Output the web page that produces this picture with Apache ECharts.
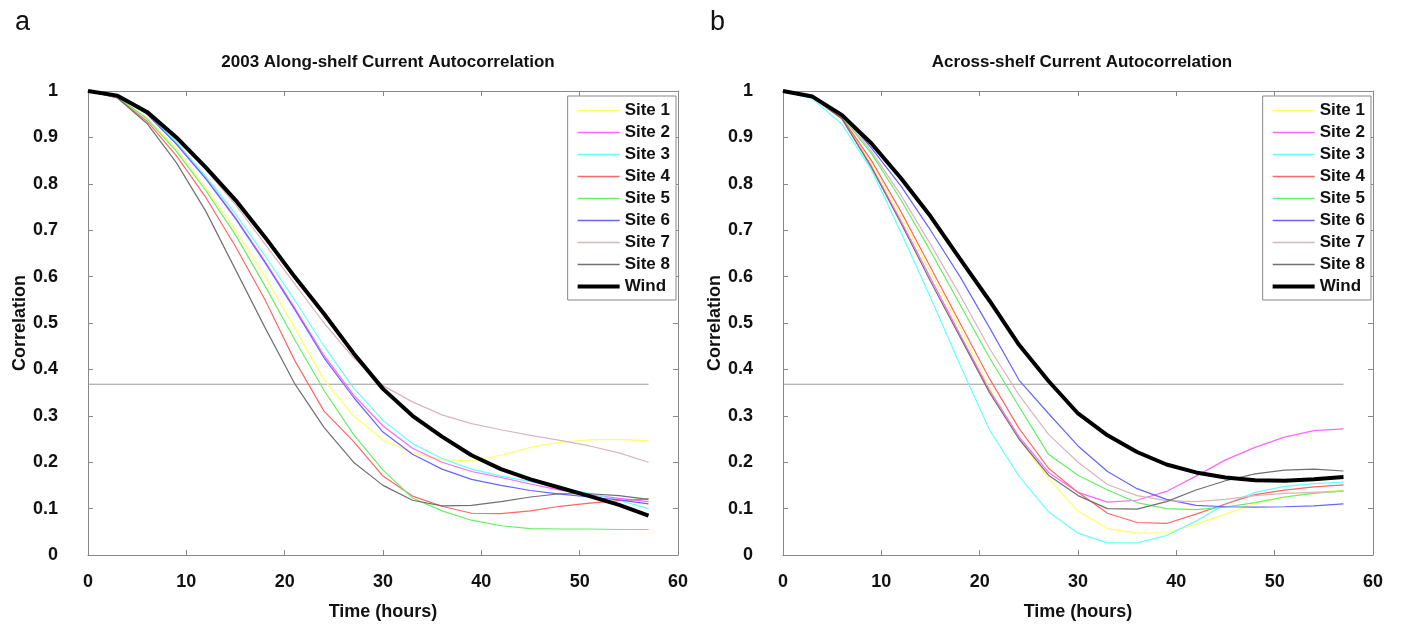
<!DOCTYPE html>
<html>
<head>
<meta charset="utf-8">
<script src="https://cdn.jsdelivr.net/npm/echarts@6/dist/echarts.min.js"></script>
<style>html,body{margin:0;padding:0;background:#fff}#c{width:1403px;height:627px}</style>
</head>
<body>
<div id="c"></div>
<script>
const hours = [0,3,6,9,12,15,18,21,24,27,30,33,36,39,42,45,48,51,54,57];
const seriesNames = ['Site 1','Site 2','Site 3','Site 4','Site 5','Site 6','Site 7','Site 8','Wind'];
const xTicks = [0,10,20,30,40,50,60];
const yTicks = [0,0.1,0.2,0.3,0.4,0.5,0.6,0.7,0.8,0.9,1];
const eFold = 0.368;
const eFoldEnd = 57;

// (a) 2003 Along-shelf
const alongSite1 = [1,0.987,0.942,0.875,0.79,0.7,0.6,0.49,0.378,0.3,0.248,0.22,0.205,0.203,0.215,0.232,0.243,0.248,0.249,0.246];
const alongSite2 = [1,0.99,0.951,0.887,0.812,0.727,0.633,0.533,0.43,0.345,0.278,0.23,0.2,0.18,0.167,0.153,0.14,0.13,0.122,0.115];
const alongSite3 = [1,0.99,0.952,0.89,0.815,0.735,0.645,0.55,0.45,0.36,0.29,0.24,0.208,0.185,0.17,0.158,0.145,0.133,0.118,0.1];
const alongSite4 = [1,0.985,0.935,0.86,0.77,0.665,0.55,0.42,0.31,0.245,0.17,0.127,0.105,0.09,0.089,0.095,0.105,0.112,0.117,0.121];
const alongSite5 = [1,0.987,0.94,0.87,0.785,0.69,0.58,0.465,0.355,0.26,0.183,0.123,0.095,0.075,0.063,0.057,0.056,0.056,0.055,0.055];
const alongSite6 = [1,0.99,0.95,0.885,0.81,0.725,0.63,0.53,0.425,0.34,0.265,0.217,0.185,0.163,0.15,0.139,0.131,0.125,0.119,0.11];
const alongSite7 = [1,0.99,0.955,0.895,0.83,0.755,0.67,0.585,0.5,0.425,0.365,0.33,0.302,0.283,0.27,0.258,0.247,0.235,0.22,0.2];
const alongSite8 = [1,0.985,0.93,0.845,0.74,0.615,0.49,0.37,0.275,0.2,0.15,0.118,0.106,0.107,0.115,0.125,0.132,0.132,0.128,0.12];
const alongWind  = [1,0.99,0.955,0.9,0.835,0.765,0.685,0.6,0.52,0.435,0.358,0.3,0.255,0.215,0.185,0.163,0.145,0.127,0.108,0.085];

// (b) Across-shelf
const acrossSite1 = [1,0.986,0.94,0.845,0.73,0.61,0.49,0.36,0.25,0.165,0.095,0.057,0.047,0.048,0.066,0.088,0.11,0.125,0.135,0.14];
const acrossSite2 = [1,0.986,0.94,0.838,0.72,0.597,0.475,0.355,0.255,0.178,0.135,0.114,0.118,0.137,0.17,0.205,0.232,0.254,0.268,0.272];
const acrossSite3 = [1,0.983,0.928,0.83,0.695,0.555,0.41,0.27,0.17,0.093,0.047,0.026,0.026,0.042,0.073,0.11,0.135,0.148,0.154,0.157];
const acrossSite4 = [1,0.987,0.942,0.85,0.74,0.62,0.5,0.38,0.273,0.187,0.135,0.09,0.07,0.068,0.088,0.11,0.13,0.14,0.147,0.151];
const acrossSite5 = [1,0.988,0.945,0.865,0.765,0.655,0.54,0.425,0.32,0.217,0.172,0.14,0.113,0.1,0.098,0.103,0.113,0.125,0.133,0.138];
const acrossSite6 = [1,0.989,0.95,0.877,0.795,0.7,0.6,0.49,0.377,0.305,0.235,0.18,0.143,0.12,0.107,0.104,0.103,0.104,0.106,0.11];
const acrossSite7 = [1,0.988,0.948,0.87,0.775,0.67,0.56,0.445,0.345,0.26,0.2,0.152,0.128,0.117,0.115,0.12,0.128,0.133,0.135,0.137];
const acrossSite8 = [1,0.986,0.94,0.835,0.715,0.59,0.47,0.35,0.25,0.172,0.128,0.1,0.099,0.115,0.14,0.16,0.175,0.183,0.185,0.181];
const acrossWind  = [1,0.988,0.948,0.887,0.812,0.73,0.638,0.548,0.453,0.375,0.305,0.258,0.222,0.195,0.178,0.167,0.161,0.16,0.163,0.168];

const colors = ['#ffff66','#ff66ff','#66ffff','#ff6666','#66ee66','#6666ff','#dcb4bc','#707070','#000000'];
const widths = [1.2,1.2,1.2,1.2,1.2,1.2,1.2,1.2,4];

const alongData = [alongSite1,alongSite2,alongSite3,alongSite4,alongSite5,alongSite6,alongSite7,alongSite8,alongWind];
const acrossData = [acrossSite1,acrossSite2,acrossSite3,acrossSite4,acrossSite5,acrossSite6,acrossSite7,acrossSite8,acrossWind];

const FONT = 'Liberation Sans, Arial, sans-serif';
const grids = [
  {left:88, top:91, width:590, height:464},
  {left:783, top:91, width:590, height:464}
];
const xAxes = [], yAxes = [];
grids.forEach((g,i)=>{
  xAxes.push({type:'value', gridIndex:i, min:xTicks[0], max:xTicks[xTicks.length-1], interval:10, position:'bottom',
    name:'Time (hours)', nameLocation:'middle', nameGap:48,
    nameTextStyle:{fontFamily:FONT, fontWeight:'bold', fontSize:18, color:'#111'},
    axisLine:{show:true, onZero:false, lineStyle:{color:'#888', width:1}},
    axisTick:{show:true, inside:true, length:5, lineStyle:{color:'#888'}},
    axisLabel:{fontFamily:FONT, fontWeight:'bold', fontSize:18, color:'#111', margin:18},
    splitLine:{show:false}});
  xAxes.push({type:'value', gridIndex:i, min:xTicks[0], max:xTicks[xTicks.length-1], interval:10, position:'top',
    axisLine:{show:true, onZero:false, lineStyle:{color:'#888', width:1}},
    axisTick:{show:true, inside:true, length:5, lineStyle:{color:'#888'}},
    axisLabel:{show:false}, splitLine:{show:false}});
  yAxes.push({type:'value', gridIndex:i, min:0, max:1, interval:0.1, position:'left',
    name:'Correlation', nameLocation:'middle', nameGap:58, nameRotate:90,
    nameTextStyle:{fontFamily:FONT, fontWeight:'bold', fontSize:18, color:'#111'},
    axisLine:{show:true, onZero:false, lineStyle:{color:'#888', width:1}},
    axisTick:{show:true, inside:true, length:5, lineStyle:{color:'#888'}},
    axisLabel:{fontFamily:FONT, fontWeight:'bold', fontSize:18, color:'#111', margin:30,
      formatter:v=>String(Math.round(v*10)/10)},
    splitLine:{show:false}});
  yAxes.push({type:'value', gridIndex:i, min:0, max:1, interval:0.1, position:'right',
    axisLine:{show:true, onZero:false, lineStyle:{color:'#888', width:1}},
    axisTick:{show:true, inside:true, length:5, lineStyle:{color:'#888'}},
    axisLabel:{show:false}, splitLine:{show:false}});
});

const series = [];
[alongData, acrossData].forEach((set, gi)=>{
  series.push({type:'line', name:'e-fold'+gi, xAxisIndex:gi*2, yAxisIndex:gi*2, symbol:'none', silent:true,
    data:[[0,eFold],[eFoldEnd,eFold]], lineStyle:{color:'#999', width:1}, z:1});
  set.forEach((arr, si)=>{
    series.push({type:'line', name:seriesNames[si], xAxisIndex:gi*2, yAxisIndex:gi*2, symbol:'none',
      data: hours.map((h,k)=>[h, arr[k]]),
      lineStyle:{color:colors[si], width:widths[si]}, itemStyle:{color:colors[si]},
      z: si===8 ? 5 : 3});
  });
});

const legendBase = {orient:'vertical', itemWidth:42, itemHeight:14, itemGap:5,
  data: seriesNames.map((n,i)=>({name:n, lineStyle:{width: widths[i]===4 ? 4 : 1.3, color: colors[i]}})),
  borderColor:'#888', borderWidth:1, padding:[6,6,5,8], backgroundColor:'#fff',
  itemStyle:{opacity:0},
  textStyle:{fontFamily:FONT, fontWeight:'bold', fontSize:17, color:'#111', padding:[0,0,0,0]}};

const option = {
  animation:false,
  backgroundColor:'#fff',
  color: colors,
  title:[
    {text:'a', left:10, top:4, textStyle:{fontFamily:FONT, fontWeight:'normal', fontSize:27, color:'#111'}},
    {text:'b', left:705, top:4, textStyle:{fontFamily:FONT, fontWeight:'normal', fontSize:27, color:'#111'}},
    {text:'2003 Along-shelf Current Autocorrelation', left:383, top:49, textAlign:'center',
      textStyle:{fontFamily:FONT, fontWeight:'bold', fontSize:17, color:'#111'}},
    {text:'Across-shelf Current Autocorrelation', left:1077, top:49, textAlign:'center',
      textStyle:{fontFamily:FONT, fontWeight:'bold', fontSize:17, color:'#111'}}
  ],
  legend:[
    Object.assign({}, legendBase, {right:1403-676, top:96}),
    Object.assign({}, legendBase, {right:1403-1371, top:96})
  ],
  grid: grids,
  xAxis: xAxes,
  yAxis: yAxes,
  series: series
};
const chart = echarts.init(document.getElementById('c'), null, {renderer:'canvas'});
chart.setOption(option);
</script>
</body>
</html>
